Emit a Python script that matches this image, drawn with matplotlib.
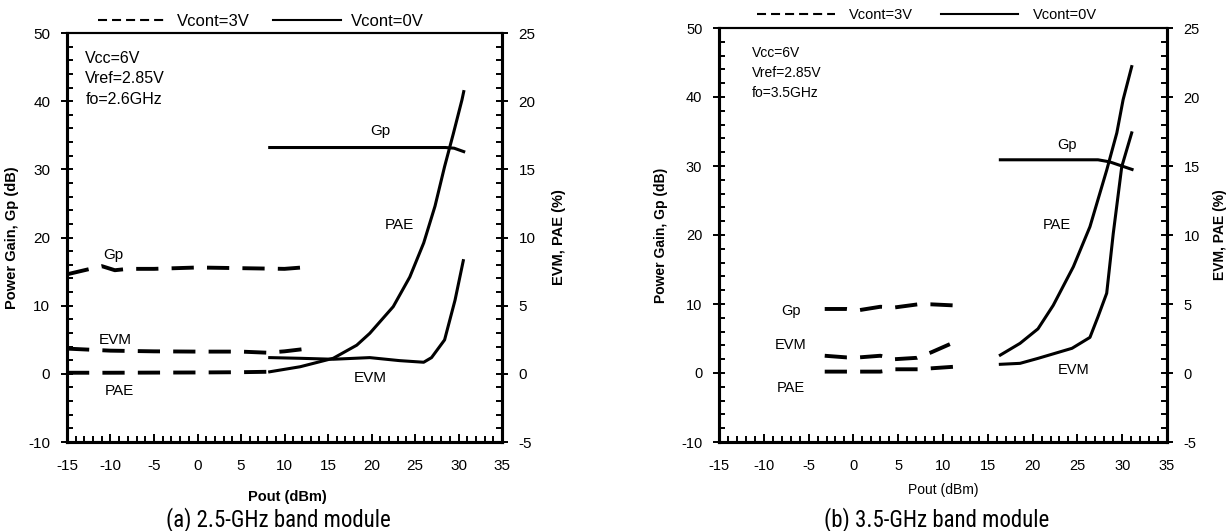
import matplotlib
matplotlib.use("Agg")
import matplotlib.pyplot as plt
from matplotlib.ticker import MultipleLocator
from matplotlib.lines import Line2D

plt.rcParams['font.family'] = ['Liberation Sans', 'DejaVu Sans']
plt.rcParams['lines.scale_dashes'] = False
plt.rcParams['axes.unicode_minus'] = False

cap_font = ['Liberation Sans Narrow', 'Roboto Condensed', 'Roboto', 'DejaVu Sans']

# ---- (a) 2.5-GHz band, Vcont=3V (dashed) ----
a_gp3_x = [-15, -13, -11, -9.5, -8, -5, 0, 5, 10, 12]
a_gp3_y = [14.6, 15.2, 15.8, 15.2, 15.4, 15.4, 15.6, 15.5, 15.4, 15.6]
a_evm3_x = [-15, -10, -5, 0, 5, 8, 10, 12]
a_evm3_y = [1.85, 1.7, 1.65, 1.63, 1.63, 1.55, 1.65, 1.8]
a_pae3_x = [-15, -10, -5, 0, 5, 8]
a_pae3_y = [0.08, 0.08, 0.09, 0.1, 0.12, 0.15]
# ---- (a) Vcont=0V (solid) ----
a_gp0_x = [8.3, 15, 20, 25, 28.5, 29.5, 30.6]
a_gp0_y = [33.2, 33.2, 33.2, 33.2, 33.2, 33.1, 32.6]
a_pae0_x = [8.3, 11.8, 15.6, 18.3, 19.8, 22.5, 24.4, 26.0, 27.3, 28.4, 29.4, 30.4, 30.6]
a_pae0_y = [0.15, 0.52, 1.14, 2.1, 2.97, 4.93, 7.1, 9.6, 12.3, 15.2, 17.6, 20.1, 20.7]
a_evm0_x = [8.3, 11.8, 15.6, 19.8, 23.2, 26.0, 26.9, 28.4, 29.6, 30.55]
a_evm0_y = [1.19, 1.14, 1.07, 1.19, 0.97, 0.85, 1.19, 2.49, 5.4, 8.3]

# ---- (b) 3.5-GHz band, Vcont=3V (dashed) ----
b_gp3_x = [-3.2, -0.75, 0.6, 3.0, 4.6, 7.2, 8.7, 11.15]
b_gp3_y = [9.28, 9.28, 9.1, 9.6, 9.5, 9.95, 9.95, 9.8]
b_evm3_x = [-3.2, -0.75, 0.6, 3.0, 4.6, 7.1, 8.7, 11.15]
b_evm3_y = [1.25, 1.13, 1.13, 1.25, 1.0, 1.1, 1.5, 2.2]
b_pae3_x = [-3.2, -0.75, 0.6, 3.0, 4.6, 7.2, 8.7, 11.15]
b_pae3_y = [0.1, 0.1, 0.1, 0.1, 0.27, 0.27, 0.34, 0.45]
# ---- (b) Vcont=0V (solid) ----
b_gp0_x = [16.4, 20, 25, 27.3, 28.6, 31.1]
b_gp0_y = [30.9, 30.9, 30.9, 30.9, 30.6, 29.5]
b_pae0_x = [16.4, 18.6, 20.6, 22.3, 24.55, 26.4, 28.27, 29.4, 30.1, 31.06]
b_pae0_y = [1.3, 2.15, 3.2, 4.9, 7.7, 10.6, 14.7, 17.4, 19.8, 22.2]
b_evm0_x = [16.4, 18.6, 20.6, 24.4, 26.4, 27.3, 28.27, 29.0, 29.95, 31.06]
b_evm0_y = [0.63, 0.7, 1.06, 1.79, 2.58, 4.08, 5.78, 10.1, 14.95, 17.4]

cond_a = ["Vcc=6V", "Vref=2.85V", "fo=2.6GHz"]
cond_b = ["Vcc=6V", "Vref=2.85V", "fo=3.5GHz"]

DASH = (0, (16, 9.5))
W = 1232
H = 531
fig = plt.figure(figsize=(W / 100, H / 100), dpi=100)


def box(l, t, r, b):
    return [l / W, 1 - b / H, (r - l) / W, (b - t) / H]


def setup(ax, ax2, fs, xbold):
    ax.set_xlim(-15, 35)
    ax.set_ylim(-10, 50)
    ax2.set_ylim(-5, 25)
    ax.xaxis.set_major_locator(MultipleLocator(5))
    ax.xaxis.set_minor_locator(MultipleLocator(1))
    ax.yaxis.set_major_locator(MultipleLocator(10))
    ax.yaxis.set_minor_locator(MultipleLocator(2))
    ax2.yaxis.set_major_locator(MultipleLocator(5))
    ax2.yaxis.set_minor_locator(MultipleLocator(1))
    ax.tick_params(axis='x', which='major', direction='in', length=6, width=1.4,
                   pad=12, labelsize=fs, top=False)
    ax.tick_params(axis='x', which='minor', direction='in', length=4, width=1.4, top=False)
    ax.tick_params(axis='y', which='major', direction='inout', length=8, width=1.4,
                   pad=8, labelsize=fs, right=False)
    ax.tick_params(axis='y', which='minor', direction='in', length=4.5, width=1.4, right=False)
    ax2.tick_params(axis='y', which='major', direction='inout', length=8, width=1.4,
                    pad=8, labelsize=fs)
    ax2.tick_params(axis='y', which='minor', direction='in', length=4.5, width=1.4)
    for a in (ax, ax2):
        for s in ('left', 'bottom', 'right'):
            a.spines[s].set_linewidth(2.2)
        a.spines['top'].set_linewidth(1.5)
    ax.set_xlabel("Pout (dBm)", fontsize=fs - 0.5,
                  fontweight='bold' if xbold else 'normal')
    ax.set_ylabel("Power Gain, Gp (dB)", fontsize=fs - 0.5, fontweight='bold')
    ax2.set_ylabel("EVM, PAE (%)", fontsize=fs - 0.5, fontweight='bold', rotation=90)


# ================= (a) =================
ax = fig.add_axes(box(67, 33, 502, 442))
ax2 = ax.twinx()
setup(ax, ax2, 11, True)
ax.plot(a_gp3_x, a_gp3_y, color='black', lw=2.8, linestyle=DASH)
ax2.plot(a_evm3_x, a_evm3_y, color='black', lw=2.8, linestyle=DASH)
ax2.plot(a_pae3_x, a_pae3_y, color='black', lw=2.8, linestyle=DASH)
ax.plot(a_gp0_x, a_gp0_y, color='black', lw=2.2)
ax2.plot(a_pae0_x, a_pae0_y, color='black', lw=2.2)
ax2.plot(a_evm0_x, a_evm0_y, color='black', lw=2.2)
ax.text(21, 35.6, "Gp", fontsize=11, ha='center', va='center')
ax.text(23.2, 21.8, "PAE", fontsize=11, ha='center', va='center')
ax.text(19.8, -0.6, "EVM", fontsize=11, ha='center', va='center')
ax.text(-9.7, 17.4, "Gp", fontsize=11, ha='center', va='center')
ax.text(-9.5, 5.0, "EVM", fontsize=11, ha='center', va='center')
ax.text(-9.0, -2.5, "PAE", fontsize=11, ha='center', va='center')
for i, s in enumerate(cond_a):
    ax.text(-12.9, 46.3 - i * 3.03, s, fontsize=11.5, ha='left', va='center')
ax.yaxis.set_label_coords(-0.110, 0.5)
ax2.yaxis.set_label_coords(1.115, 0.5)
ax.xaxis.set_label_coords(0.506, -0.118)

# ================= (b) =================
bx = fig.add_axes(box(719, 28, 1167, 442))
bx2 = bx.twinx()
setup(bx, bx2, 10.5, False)
bx.plot(b_gp3_x, b_gp3_y, color='black', lw=2.8, linestyle=DASH)
bx2.plot(b_evm3_x, b_evm3_y, color='black', lw=2.8, linestyle=DASH)
bx2.plot(b_pae3_x, b_pae3_y, color='black', lw=2.8, linestyle=DASH)
bx.plot(b_gp0_x, b_gp0_y, color='black', lw=2.2)
bx2.plot(b_pae0_x, b_pae0_y, color='black', lw=2.2)
bx2.plot(b_evm0_x, b_evm0_y, color='black', lw=2.2)
bx.text(23.8, 33.0, "Gp", fontsize=10.5, ha='center', va='center')
bx.text(22.7, 21.45, "PAE", fontsize=10.5, ha='center', va='center')
bx.text(24.55, 0.4, "EVM", fontsize=10.5, ha='center', va='center')
bx.text(-7.0, 9.0, "Gp", fontsize=10.5, ha='center', va='center')
bx.text(-7.0, 4.1, "EVM", fontsize=10.5, ha='center', va='center')
bx.text(-7.0, -2.2, "PAE", fontsize=10.5, ha='center', va='center')
for i, s in enumerate(cond_b):
    bx.text(-11.3, 46.4 - i * 2.9, s, fontsize=10, ha='left', va='center')
bx.yaxis.set_label_coords(-0.114, 0.5)
bx2.yaxis.set_label_coords(1.103, 0.5)
bx.xaxis.set_label_coords(0.5, -0.098)

# legends above the plots
h_dash = Line2D([], [], color='black', lw=1.5, linestyle=(0, (6.5, 3.6)))
h_solid = Line2D([], [], color='black', lw=1.5)
fig.legend([h_dash, h_solid], ["Vcont=3V", "Vcont=0V"], loc='center',
           bbox_to_anchor=(261 / W, 1 - 21 / H), ncol=2, frameon=False,
           fontsize=12, handlelength=4.1, handletextpad=0.6, columnspacing=1.4,
           borderpad=0, borderaxespad=0)
fig.legend([h_dash, h_solid], ["Vcont=3V", "Vcont=0V"], loc='center',
           bbox_to_anchor=(927 / W, 1 - 15 / H), ncol=2, frameon=False,
           fontsize=10.5, handlelength=5.3, handletextpad=1.0, columnspacing=1.9,
           borderpad=0, borderaxespad=0)

fig.text(278 / W, 1 - 520 / H, "(a) 2.5-GHz band module", family=cap_font,
         fontsize=16.5, ha='center', va='center')
fig.text(937 / W, 1 - 520 / H, "(b) 3.5-GHz band module", family=cap_font,
         fontsize=16.5, ha='center', va='center')

fig.savefig("out.png", dpi=100)
